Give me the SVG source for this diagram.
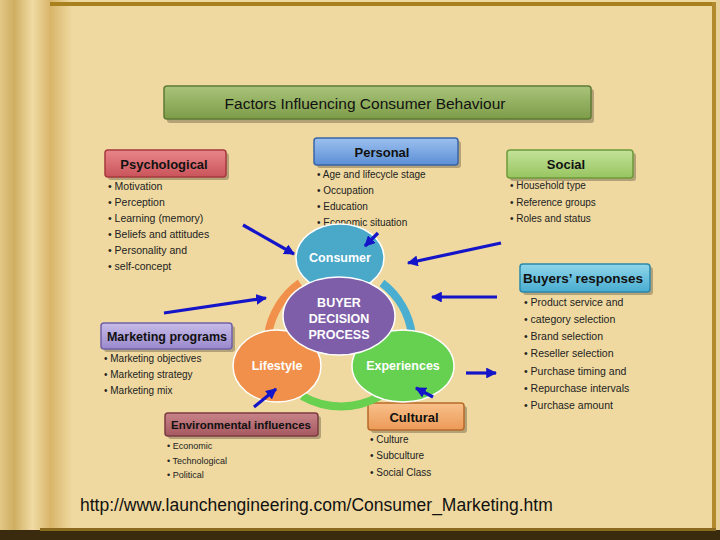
<svg xmlns="http://www.w3.org/2000/svg" width="720" height="540" viewBox="0 0 720 540">
<defs>
<linearGradient id="scroll" x1="0" y1="0" x2="1" y2="0">
<stop offset="0" stop-color="#e2c785"/>
<stop offset="0.2" stop-color="#cfae62"/>
<stop offset="0.45" stop-color="#f0dba4"/>
<stop offset="0.7" stop-color="#d9b56a"/>
<stop offset="1" stop-color="#efd9a0"/>
</linearGradient>
<linearGradient id="gGreen" x1="0" y1="0" x2="0" y2="1"><stop offset="0" stop-color="#a9c47a"/><stop offset="1" stop-color="#7d9c48"/></linearGradient>
<linearGradient id="gRed" x1="0" y1="0" x2="0" y2="1"><stop offset="0" stop-color="#e8868a"/><stop offset="1" stop-color="#c9545a"/></linearGradient>
<linearGradient id="gBlue" x1="0" y1="0" x2="0" y2="1"><stop offset="0" stop-color="#9cc0ee"/><stop offset="1" stop-color="#5c8fd6"/></linearGradient>
<linearGradient id="gLGreen" x1="0" y1="0" x2="0" y2="1"><stop offset="0" stop-color="#c4e29a"/><stop offset="1" stop-color="#97c460"/></linearGradient>
<linearGradient id="gTeal" x1="0" y1="0" x2="0" y2="1"><stop offset="0" stop-color="#8fd6ea"/><stop offset="1" stop-color="#48acd0"/></linearGradient>
<linearGradient id="gPurple" x1="0" y1="0" x2="0" y2="1"><stop offset="0" stop-color="#c7bce8"/><stop offset="1" stop-color="#9a88cc"/></linearGradient>
<linearGradient id="gMauve" x1="0" y1="0" x2="0" y2="1"><stop offset="0" stop-color="#c8848a"/><stop offset="1" stop-color="#a5585f"/></linearGradient>
<linearGradient id="gOrange" x1="0" y1="0" x2="0" y2="1"><stop offset="0" stop-color="#f8c08a"/><stop offset="1" stop-color="#ec9a58"/></linearGradient>
<marker id="ah" viewBox="0 0 10 10" refX="9" refY="5" markerWidth="3.4" markerHeight="3.4" orient="auto" markerUnits="strokeWidth">
<path d="M0,0 L10,5 L0,10 Z" fill="#1414c8"/>
</marker>
</defs>
<style>
.box{stroke-width:1.5}
.shadow{fill:#000;opacity:0.25}
.hdr{font-family:"Liberation Sans",Arial,sans-serif;font-weight:bold;fill:#111;text-anchor:middle}
.li{font-family:"Liberation Sans",Arial,sans-serif;font-size:10.5px;fill:#222}
.sm{font-size:9.5px}
.ctr{font-family:"Liberation Sans",Arial,sans-serif;font-weight:bold;fill:#fff;text-anchor:middle;font-size:12.5px}
.arr{stroke:#1414c8;stroke-width:3.2;fill:none;marker-end:url(#ah)}
</style>

<!-- background page -->
<rect x="0" y="0" width="720" height="540" fill="#efd9a0"/>
<rect x="0" y="0" width="72" height="532" fill="url(#scroll)"/>
<rect x="50" y="2" width="666" height="4" fill="#a8801e"/>
<rect x="712" y="2" width="4" height="530" fill="#b08a2c"/>
<rect x="716" y="0" width="4" height="540" fill="#e8d29a"/>
<rect x="0" y="530" width="720" height="10" fill="#3a2a0e"/>
<rect x="40" y="528" width="676" height="3" fill="#8a6a1e"/>

<!-- title -->
<g id="title">
<rect x="167" y="89" width="427" height="34" rx="3" class="shadow"/>
<rect x="164" y="86" width="427" height="33" rx="3" fill="url(#gGreen)" stroke="#5e7a34" class="box"/>
<text x="365" y="109" class="hdr" style="font-weight:normal;font-size:15.5px">Factors Influencing Consumer Behaviour</text>
</g>

<!-- Psychological -->
<g id="psychological">
<rect x="108" y="153" width="121" height="27" rx="3" class="shadow"/>
<rect x="105" y="150" width="121" height="27" rx="3" fill="url(#gRed)" stroke="#a8383e" class="box"/>
<text x="164" y="168.5" class="hdr" style="font-size:13px">Psychological</text>
<text class="li"><tspan x="108" y="190">• Motivation</tspan><tspan x="108" y="206">• Perception</tspan><tspan x="108" y="222">• Learning (memory)</tspan><tspan x="108" y="238">• Beliefs and attitudes</tspan><tspan x="108" y="254">• Personality and</tspan><tspan x="108" y="270">• self-concept</tspan></text>
</g>

<!-- Personal -->
<g id="personal">
<rect x="317" y="141" width="144" height="27" rx="3" class="shadow"/>
<rect x="314" y="138" width="144" height="27" rx="3" fill="url(#gBlue)" stroke="#3a64a8" class="box"/>
<text x="382" y="156.5" class="hdr" style="font-size:13px">Personal</text>
<text class="li" style="font-size:10px"><tspan x="317" y="178">• Age and lifecycle stage</tspan><tspan x="317" y="194">• Occupation</tspan><tspan x="317" y="210">• Education</tspan><tspan x="317" y="226">• Economic situation</tspan></text>
</g>

<!-- Social -->
<g id="social">
<rect x="510" y="153" width="126" height="28" rx="3" class="shadow"/>
<rect x="507" y="150" width="126" height="28" rx="3" fill="url(#gLGreen)" stroke="#6e9a3a" class="box"/>
<text x="566" y="168.5" class="hdr" style="font-size:13px">Social</text>
<text class="li" style="font-size:10px"><tspan x="510" y="189">• Household type</tspan><tspan x="510" y="206">• Reference groups</tspan><tspan x="510" y="222">• Roles and status</tspan></text>
</g>

<!-- Buyers' responses -->
<g id="buyers-responses">
<rect x="523" y="267" width="130" height="28" rx="3" class="shadow"/>
<rect x="520" y="264" width="130" height="28" rx="3" fill="url(#gTeal)" stroke="#2a88aa" class="box"/>
<text x="583" y="283" class="hdr" style="font-size:13.5px">Buyers’ responses</text>
<text class="li"><tspan x="524" y="306">• Product service and</tspan><tspan x="524" y="323">• category selection</tspan><tspan x="524" y="340">• Brand selection</tspan><tspan x="524" y="357">• Reseller selection</tspan><tspan x="524" y="375">• Purchase timing and</tspan><tspan x="524" y="392">• Repurchase intervals</tspan><tspan x="524" y="409">• Purchase amount</tspan></text>
</g>

<!-- Marketing programs -->
<g id="marketing-programs">
<rect x="104" y="326" width="131" height="26" rx="3" class="shadow"/>
<rect x="101" y="323" width="131" height="26" rx="3" fill="url(#gPurple)" stroke="#7060a8" class="box"/>
<text x="167" y="341" class="hdr" style="font-size:12.5px">Marketing programs</text>
<text class="li" style="font-size:10px"><tspan x="104" y="362">• Marketing objectives</tspan><tspan x="104" y="378">• Marketing strategy</tspan><tspan x="104" y="394">• Marketing mix</tspan></text>
</g>

<!-- Environmental influences -->
<g id="environmental-influences">
<rect x="168" y="416" width="153" height="23" rx="3" class="shadow"/>
<rect x="165" y="413" width="153" height="23" rx="3" fill="url(#gMauve)" stroke="#7e3a40" class="box"/>
<text x="241" y="429" class="hdr" style="font-size:11.5px">Environmental influences</text>
<text class="li sm" style="font-size:9px"><tspan x="167" y="449">• Economic</tspan><tspan x="167" y="464">• Technological</tspan><tspan x="167" y="478">• Political</tspan></text>
</g>

<!-- Cultural -->
<g id="cultural">
<rect x="371" y="406" width="96" height="27" rx="3" class="shadow"/>
<rect x="368" y="403" width="96" height="27" rx="3" fill="url(#gOrange)" stroke="#b86a28" class="box"/>
<text x="414" y="421.5" class="hdr" style="font-size:13px">Cultural</text>
<text class="li" style="font-size:10px"><tspan x="370" y="443">• Culture</tspan><tspan x="370" y="459">• Subculture</tspan><tspan x="370" y="476">• Social Class</tspan></text>
</g>

<!-- ring arcs -->
<g id="cycle-ring" fill="none" stroke-width="8">
<path d="M300,283 A78,78 0 0 0 268,335" stroke="#f0904a"/>
<path d="M382,283 A78,78 0 0 1 412,335" stroke="#4aaed0"/>
<path d="M302,396 A78,78 0 0 0 380,396" stroke="#6ad050"/>
</g>

<!-- Consumer -->
<g id="consumer">
<ellipse cx="340" cy="258" rx="44" ry="34" fill="#4aa8c8" stroke="#fff" stroke-width="1.5"/>
<text x="340" y="262" class="ctr">Consumer</text>
</g>

<!-- Lifestyle -->
<g id="lifestyle">
<ellipse cx="277" cy="366" rx="44" ry="36" fill="#f0904a" stroke="#fff" stroke-width="1.5"/>
<text x="277" y="370" class="ctr">Lifestyle</text>
</g>

<!-- Experiences -->
<g id="experiences">
<ellipse cx="403" cy="366" rx="51" ry="36" fill="#66d050" stroke="#fff" stroke-width="1.5"/>
<text x="403" y="370" class="ctr">Experiences</text>
</g>

<!-- Buyer decision process -->
<g id="buyer-decision-process">
<ellipse cx="339" cy="316" rx="56" ry="39" fill="#7e5ea8" stroke="#fff" stroke-width="1.5"/>
<text class="ctr"><tspan x="339" y="307">BUYER</tspan><tspan x="339" y="323">DECISION</tspan><tspan x="339" y="339">PROCESS</tspan></text>
</g>

<!-- connectors -->
<g id="connectors">
<line x1="243" y1="225" x2="294" y2="254" class="arr"/>
<line x1="378" y1="233" x2="365" y2="246" class="arr"/>
<line x1="501" y1="243" x2="408" y2="263" class="arr"/>
<line x1="164" y1="313" x2="266" y2="298" class="arr"/>
<line x1="497" y1="297" x2="432" y2="297" class="arr"/>
<line x1="254" y1="407" x2="276" y2="389" class="arr"/>
<line x1="433" y1="397" x2="416" y2="388" class="arr"/>
<line x1="466" y1="373" x2="496" y2="373" class="arr"/>
</g>

<text x="80" y="511" style="font-family:'Liberation Sans',Arial,sans-serif;font-size:17.5px;fill:#111">http://www.launchengineering.com/Consumer_Marketing.htm</text>
</svg>
